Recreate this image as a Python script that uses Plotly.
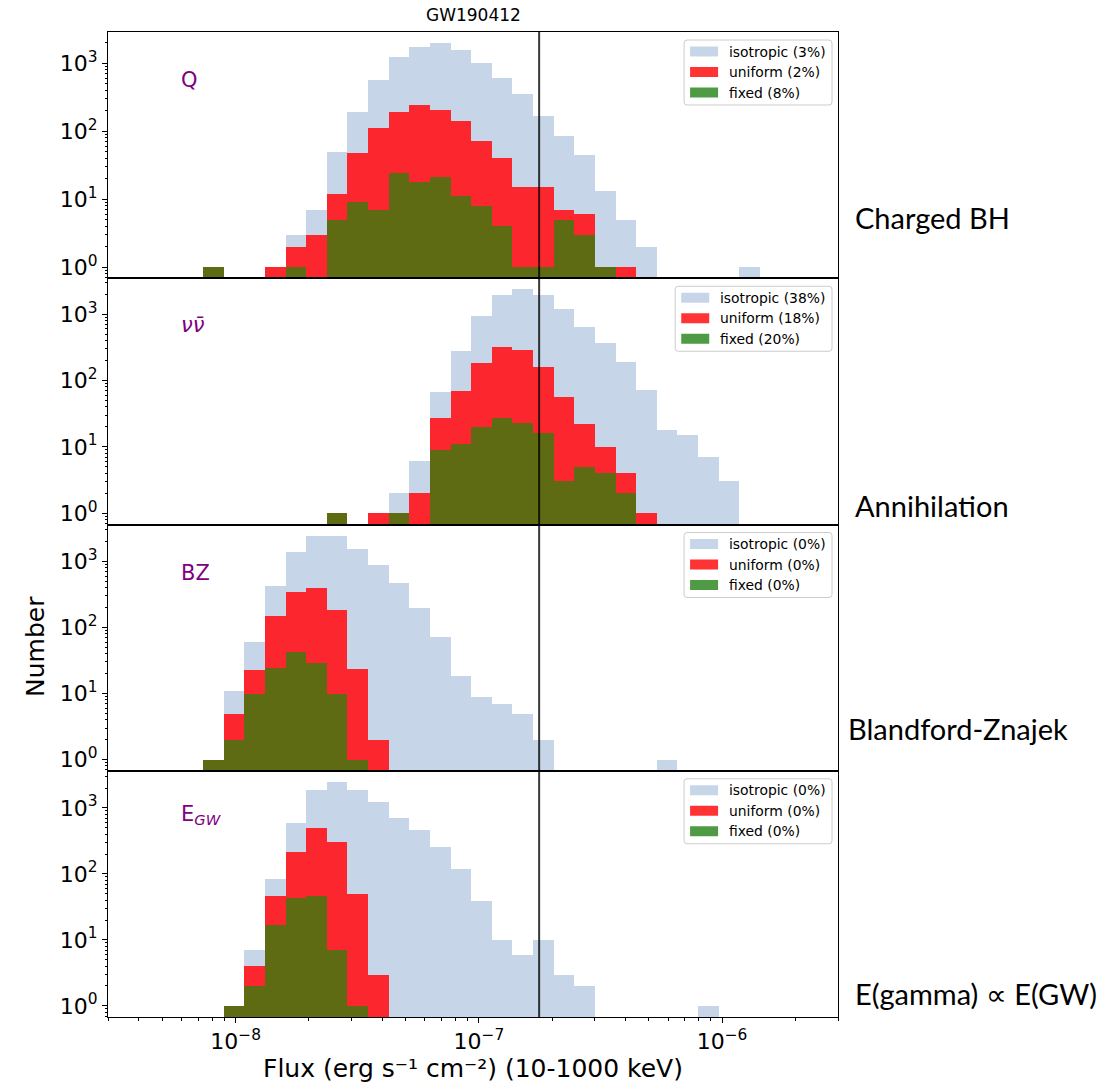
import numpy as np
import plotly.graph_objects as go
from plotly.subplots import make_subplots

# ---- histogram binning: log10(flux / erg s^-1 cm^-2), equal-width bins ----
log_flux_min = -8.134
log_bin_width = 0.0848

# ---- counts per bin (27 bins), one array per model and beaming case ----
charged_isotropic = [1, 0, 0, 1, 3, 7, 50, 190, 570, 1250, 1750, 1970, 1570, 1020, 610, 350, 165, 86, 45, 13, 5, 2, 0, 0, 0, 0, 1]
charged_uniform = [1, 0, 0, 1, 2, 3, 12, 48, 110, 190, 245, 205, 140, 72, 40, 15, 15, 7, 6, 1, 1, 0, 0, 0, 0, 0, 0]
charged_fixed = [1, 0, 0, 0, 1, 0, 5, 9, 7, 24, 18, 21, 11, 8, 4, 1, 1, 5, 3, 1, 0, 0, 0, 0, 0, 0, 0]

annihilation_isotropic = [0, 0, 0, 0, 0, 0, 1, 0, 1, 2, 6, 66, 275, 945, 1956, 2354, 1910, 1205, 630, 366, 190, 71, 18, 15, 7, 3, 0]
annihilation_uniform = [0, 0, 0, 0, 0, 0, 1, 0, 1, 1, 2, 27, 69, 183, 319, 288, 160, 56, 22, 10, 4, 1, 0, 0, 0, 0, 0]
annihilation_fixed = [0, 0, 0, 0, 0, 0, 1, 0, 0, 1, 0, 9, 11, 20, 27, 23, 16, 3, 5, 4, 2, 0, 0, 0, 0, 0, 0]

bz_isotropic = [1, 11, 62, 430, 1420, 2450, 2450, 1556, 913, 482, 204, 73, 19, 9, 7, 5, 2, 0, 0, 0, 0, 0, 1, 0, 0, 0, 0]
bz_uniform = [1, 5, 23, 151, 352, 409, 190, 24, 2, 0, 0, 0, 0, 0, 0, 0, 0, 0, 0, 0, 0, 0, 0, 0, 0, 0, 0]
bz_fixed = [1, 2, 10, 25, 44, 29, 10, 1, 0, 0, 0, 0, 0, 0, 0, 0, 0, 0, 0, 0, 0, 0, 0, 0, 0, 0, 0]

egw_isotropic = [0, 1, 7, 84, 593, 1896, 2478, 1896, 1233, 705, 459, 256, 119, 39, 10, 6, 10, 3, 2, 0, 0, 0, 0, 0, 1, 0, 0]
egw_uniform = [0, 1, 4, 46, 220, 498, 305, 50, 3, 0, 0, 0, 0, 0, 0, 0, 0, 0, 0, 0, 0, 0, 0, 0, 0, 0, 0]
egw_fixed = [0, 1, 2, 17, 44, 47, 7, 1, 0, 0, 0, 0, 0, 0, 0, 0, 0, 0, 0, 0, 0, 0, 0, 0, 0, 0, 0]

model_names = ["Charged BH", "Annihilation", "Blandford-Znajek", "E(gamma) \u221d E(GW)"]
model_tags = ["Q", "<i>\u03bd\u03bd\u0304</i>", "BZ", "E<sub><i>GW</i></sub>"]
isotropic_pct = [3, 38, 0, 0]
uniform_pct = [2, 18, 0, 0]
fixed_pct = [8, 20, 0, 0]
gw_flux_limit = 1.77e-7  # detector flux threshold (vertical line)
event_name = "GW190412"
x_title = "Flux (erg s\u207b\u00b9 cm\u207b\u00b2) (10-1000 keV)"

panels = [
    (charged_isotropic, charged_uniform, charged_fixed),
    (annihilation_isotropic, annihilation_uniform, annihilation_fixed),
    (bz_isotropic, bz_uniform, bz_fixed),
    (egw_isotropic, egw_uniform, egw_fixed),
]

# ---- styling ----
W, H = 1101, 1086
L_PX, R_PX, T_PX, B_PX = 108, 838, 32, 1017
bar_colors = ["#c6d6e8", "#fc272e", "#5e6b12"]
swatch_colors = ["#c6d6e8", "#ff3333", "#4f9a45"]
font_main = "DejaVu Sans"


def px_x(x):
    return (x - L_PX) / (R_PX - L_PX)


def px_y(y):
    return (B_PX - y) / (B_PX - T_PX)


def sup_ten(e):
    return "10<sup>" + str(e).replace("-", "\u2212") + "</sup>"


fig = make_subplots(rows=4, cols=1, shared_xaxes=True, vertical_spacing=0)

n_bins = len(charged_isotropic)
centers = [log_flux_min + (k + 0.5) * log_bin_width for k in range(n_bins)]

for row, series in enumerate(panels, start=1):
    for counts, color in zip(series, bar_colors):
        fig.add_trace(
            go.Bar(
                x=centers,
                y=[c if c > 0 else None for c in counts],
                width=log_bin_width,
                marker=dict(color=color, line=dict(width=0)),
                showlegend=False,
                hoverinfo="skip",
            ),
            row=row,
            col=1,
        )

x_range = [-8.525, -5.523]
x_minor = [float(np.log10(m * 10.0 ** e)) for e in range(-9, -5) for m in range(2, 10)]
y_minor = [m * 10.0 ** e for e in range(-1, 4) for m in range(2, 10)]

for row, series in enumerate(panels, start=1):
    peak = max(max(s) for s in series)
    lp = np.log10(peak)
    fig.update_yaxes(
        type="log",
        range=[-0.05 * lp, 1.05 * lp],
        tickmode="array",
        tickvals=[1, 10, 100, 1000],
        ticktext=[sup_ten(e) for e in range(4)],
        ticks="outside",
        ticklen=5,
        tickwidth=1,
        tickcolor="black",
        tickfont=dict(family=font_main, size=22, color="black"),
        minor=dict(ticks="outside", ticklen=2.5, tickwidth=0.8, tickcolor="black",
                   tickmode="array", tickvals=y_minor, showgrid=False),
        showline=True,
        linecolor="black",
        linewidth=1,
        mirror=True,
        showgrid=False,
        zeroline=False,
        row=row,
        col=1,
    )
    bottom = row == 4
    fig.update_xaxes(
        range=x_range,
        showline=True,
        linecolor="black",
        linewidth=1,
        mirror=True,
        showgrid=False,
        zeroline=False,
        tickmode="array",
        tickvals=[-8, -7, -6],
        ticktext=[sup_ten(e) for e in (-8, -7, -6)],
        showticklabels=bottom,
        ticks="outside" if bottom else "",
        ticklen=5,
        tickwidth=1,
        tickcolor="black",
        tickfont=dict(family=font_main, size=22, color="black"),
        minor=dict(ticks="outside" if bottom else "", ticklen=2.5, tickwidth=0.8,
                   tickcolor="black", tickmode="array", tickvals=x_minor, showgrid=False),
        row=row,
        col=1,
    )

shapes = []
annotations = []

# flux threshold line across all panels
shapes.append(dict(type="line", xref="x", yref="paper",
                   x0=float(np.log10(gw_flux_limit)), x1=float(np.log10(gw_flux_limit)),
                   y0=0, y1=1, line=dict(color="rgba(0,0,0,0.78)", width=2), layer="above"))

# DejaVu Sans advance widths (em) for legend sizing
adv = {"i": 0.278, "s": 0.521, "o": 0.612, "t": 0.392, "r": 0.411, "p": 0.635, "c": 0.550,
       "u": 0.634, "n": 0.634, "f": 0.352, "m": 0.974, "x": 0.592, "e": 0.615, "d": 0.635,
       "(": 0.390, ")": 0.390, "%": 0.950, " ": 0.318}


def text_w(s, size):
    return size * sum(adv.get(ch, 0.636) for ch in s)


leg_font = 13.9
panel_h = (B_PX - T_PX) / 4
for i in range(4):
    top = T_PX + i * panel_h
    labels = [f"isotropic ({isotropic_pct[i]}%)", f"uniform ({uniform_pct[i]}%)", f"fixed ({fixed_pct[i]}%)"]
    tw = max(text_w(s, leg_font) for s in labels)
    right = R_PX - 6
    text_x = right - 6 - tw
    sw_x = text_x - 11 - 28
    box_l = sw_x - 6
    box_t, box_b = top + 8, top + 73
    r = 3
    x0, x1 = px_x(box_l), px_x(right)
    y0, y1 = px_y(box_b), px_y(box_t)
    rx, ry = r / (R_PX - L_PX), r / (B_PX - T_PX)
    path = (f"M{x0+rx},{y1} L{x1-rx},{y1} Q{x1},{y1} {x1},{y1-ry} L{x1},{y0+ry} "
            f"Q{x1},{y0} {x1-rx},{y0} L{x0+rx},{y0} Q{x0},{y0} {x0},{y0+ry} "
            f"L{x0},{y1-ry} Q{x0},{y1} {x0+rx},{y1} Z")
    shapes.append(dict(type="path", xref="paper", yref="paper", path=path,
                       fillcolor="rgba(255,255,255,0.8)", line=dict(color="#cccccc", width=1),
                       layer="above"))
    for j, (lab, col) in enumerate(zip(labels, swatch_colors)):
        cy = top + 19.5 + 20.5 * j
        shapes.append(dict(type="rect", xref="paper", yref="paper",
                           x0=px_x(sw_x), x1=px_x(sw_x + 28), y0=px_y(cy + 5), y1=px_y(cy - 5),
                           fillcolor=col, line=dict(width=0), layer="above"))
        annotations.append(dict(xref="paper", yref="paper", x=px_x(text_x - 2), y=px_y(cy),
                                xanchor="left", yanchor="middle", text=lab, showarrow=False,
                                font=dict(family=font_main, size=leg_font, color="black")))

# model tags inside panels
tag_y = [80, 325, 573, 815]
for i in range(4):
    annotations.append(dict(xref="paper", yref="paper", x=px_x(179), y=px_y(tag_y[i]),
                            xanchor="left", yanchor="middle", text=model_tags[i], showarrow=False,
                            font=dict(family=font_main, size=21, color="purple")))

# model names to the right of the panels
name_pos = [(853, 218), (853, 505), (846, 728), (853, 993)]
for i in range(4):
    x, y = name_pos[i]
    annotations.append(dict(xref="paper", yref="paper", x=px_x(x), y=px_y(y),
                            xanchor="left", yanchor="middle", text=model_names[i], showarrow=False,
                            font=dict(family="Lato", size=29, color="black")))

# title and axis titles
annotations.append(dict(xref="paper", yref="paper", x=0.5, y=px_y(15), xanchor="center",
                        yanchor="middle", text=event_name, showarrow=False,
                        font=dict(family=font_main, size=17, color="black")))
annotations.append(dict(xref="paper", yref="paper", x=0.5, y=px_y(1068), xanchor="center",
                        yanchor="middle", text=x_title, borderpad=0,
                        showarrow=False, font=dict(family=font_main, size=25, color="black")))
annotations.append(dict(xref="paper", yref="paper", x=px_x(35), y=px_y(647), xanchor="center",
                        yanchor="middle", text="Number", textangle=-90, showarrow=False,
                        font=dict(family=font_main, size=25, color="black")))

fig.update_layout(
    width=W,
    height=H,
    margin=dict(l=L_PX, r=W - R_PX, t=T_PX, b=H - B_PX, pad=0),
    barmode="overlay",
    bargap=0,
    plot_bgcolor="white",
    paper_bgcolor="white",
    shapes=shapes,
    annotations=annotations,
    showlegend=False,
)

fig.write_html("out.html")
